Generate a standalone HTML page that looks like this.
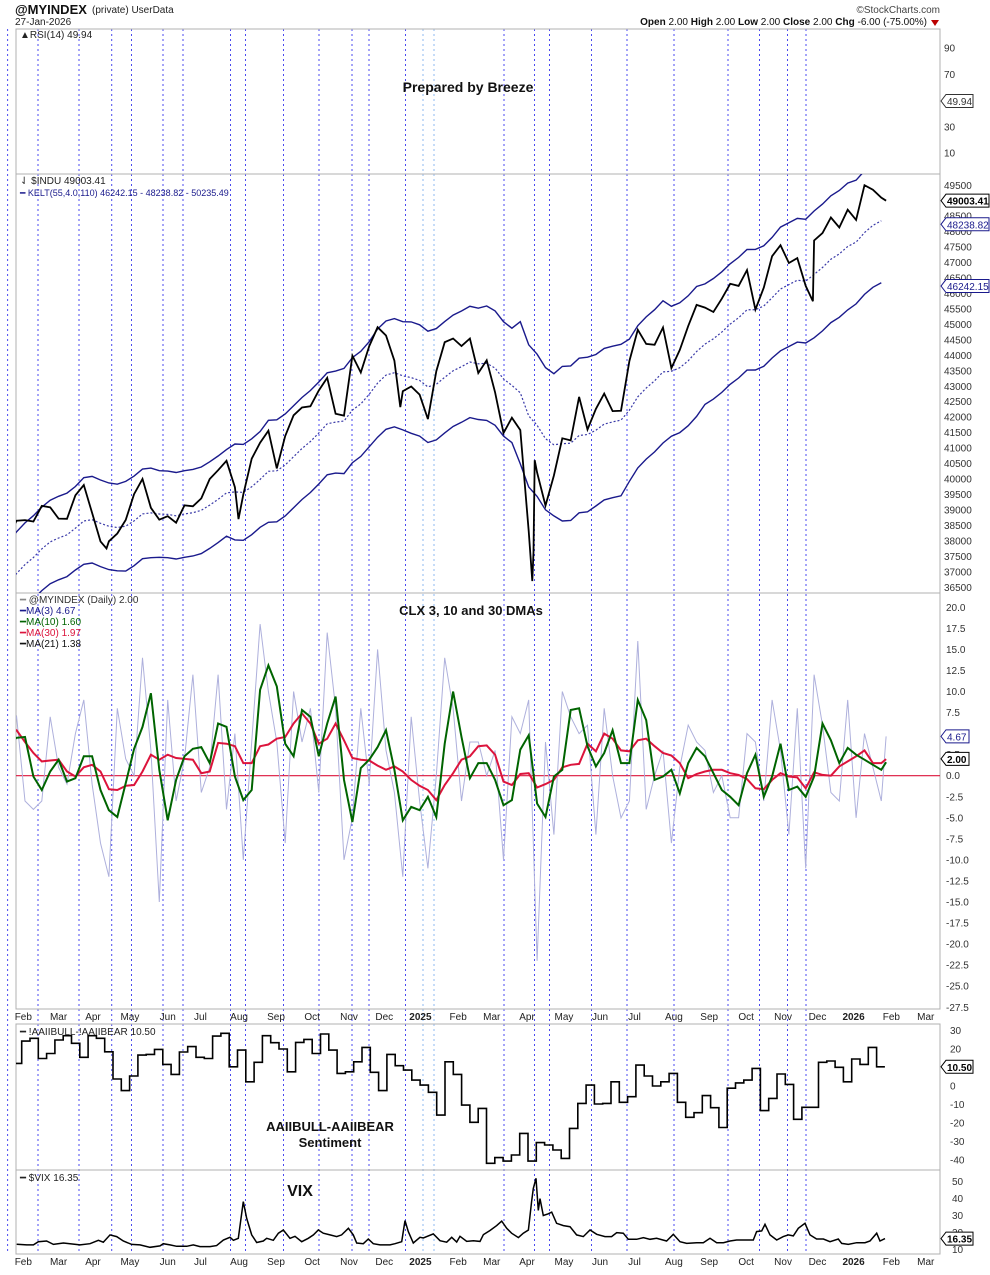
<!DOCTYPE html>
<html><head><meta charset="utf-8"><style>
html,body{margin:0;padding:0;background:#fff;}
body{width:990px;height:1270px;overflow:hidden;font-family:"Liberation Sans",sans-serif;}
svg text{font-family:"Liberation Sans",sans-serif;}
</style></head>
<body>
<svg id="chart" width="990" height="1270" viewBox="0 0 990 1270" xmlns="http://www.w3.org/2000/svg">
<defs>
<clipPath id="cpI"><rect x="16" y="174" width="924" height="419"/></clipPath>
<clipPath id="cpC"><rect x="16" y="593" width="924" height="416"/></clipPath>
<clipPath id="cpA"><rect x="16" y="1024" width="924" height="146"/></clipPath>
<clipPath id="cpV"><rect x="16" y="1170" width="924" height="84"/></clipPath>
</defs>
<g>
<text x="15" y="14" font-size="13" font-weight="bold" fill="#111">@MYINDEX</text>
<text x="92" y="13" font-size="10" fill="#222">(private) UserData</text>
<text x="15" y="25" font-size="10" fill="#222">27-Jan-2026</text>
<text x="940" y="13" font-size="10" fill="#444" text-anchor="end">©StockCharts.com</text>
<text x="927" y="25" font-size="10" fill="#111" text-anchor="end"><tspan font-weight="bold">Open</tspan> 2.00 <tspan font-weight="bold">High</tspan> 2.00 <tspan font-weight="bold">Low</tspan> 2.00 <tspan font-weight="bold">Close</tspan> 2.00 <tspan font-weight="bold">Chg</tspan> -6.00 (-75.00%)</text>
<polygon points="931,20 939,20 935,26" fill="#b00"/>
</g>
<g id="grid"></g>
<g id="frames"></g>
<g id="plots"></g>
<g id="axes"></g>
<g>
<text x="20" y="38" font-size="10" fill="#222">▲RSI(14) 49.94</text>
<text x="468" y="92" font-size="14" font-weight="bold" text-anchor="middle" fill="#111">Prepared by Breeze</text>
<text x="20" y="184" font-size="10" fill="#222">⇃ $INDU 49003.41</text>
<text x="20" y="196" font-size="9" fill="#1a1a8c">━ KELT(55,4.0,110) 46242.15 - 48238.82 - 50235.49</text>
<text x="20" y="603" font-size="10" fill="#333"><tspan fill="#888">━</tspan> @MYINDEX (Daily) 2.00</text>
<text x="20" y="614" font-size="10" fill="#1a1a8c">━MA(3) 4.67</text>
<text x="20" y="625" font-size="10" fill="#006400">━MA(10) 1.60</text>
<text x="20" y="636" font-size="10" fill="#dc143c">━MA(30) 1.97</text>
<text x="20" y="647" font-size="10" fill="#111">━MA(21) 1.38</text>
<text x="471" y="615" font-size="13" font-weight="bold" text-anchor="middle" fill="#111">CLX 3, 10 and 30 DMAs</text>
<text x="20" y="1035" font-size="10" fill="#222">━ !AAIIBULL-!AAIIBEAR 10.50</text>
<text x="330" y="1131" font-size="13" font-weight="bold" text-anchor="middle" fill="#111">AAIIBULL-AAIIBEAR</text>
<text x="330" y="1147" font-size="13" font-weight="bold" text-anchor="middle" fill="#111">Sentiment</text>
<text x="20" y="1181" font-size="10" fill="#222">━ $VIX 16.35</text>
<text x="300" y="1196" font-size="16" font-weight="bold" text-anchor="middle" fill="#111">VIX</text>
</g>
</svg>
<script>
// ---------- DATA ----------
const monthLabels = ["Feb","Mar","Apr","May","Jun","Jul","Aug","Sep","Oct","Nov","Dec","2025","Feb","Mar","Apr","May","Jun","Jul","Aug","Sep","Oct","Nov","Dec","2026","Feb","Mar"];
const monthWeeks = [1.8,6.0,10.1,14.5,19.0,22.9,27.5,31.9,36.2,40.6,44.8,49.1,53.6,57.6,61.8,66.2,70.5,74.6,79.3,83.5,87.9,92.3,96.4,100.7,105.2,109.3];
const gridX = [7.6,38,79,111.7,131.5,163,183,230.5,245.5,283.5,319,352,369,405.5,423,434,504,534.5,549.5,591.5,627,674,728,759.5,787.5,806];
const induClose = [38109,38654,38671,38627,39131,39087,38722,38714,39475,39807,
38904,37983,37986,38239,38676,39512,40003,39070,38686,38799,
38589,39150,39119,39375,40000,40287,40589,39737,39497,40659,
41175,41563,40345,41393,42063,42313,42352,42864,43275,42114,
42052,43989,43445,44296,44911,44643,43828,42840,42992,42732,
41938,43488,44424,44545,44303,44546,43428,43841,42802,41488,
41985,41584,38315,40213,39142,40114,41317,41249,42655,41603,
42270,42763,42198,42207,43819,44828,44371,44342,44902,43589,
44176,44946,45632,45545,45401,45834,46315,46247,46758,45480,
46191,47207,47563,46987,47147,46245,47716,47955,48458,48135,
48711,48382,49504,49359,49098];
const induExtraWeek = [11.71,27.43,46.71,62.43,62.57,62.71,95.86,104.57];
const induExtraVal  = [37753,38703,42327,36700,37645,40608,45752,49003.41];
const keltSeed = 36300;
const keltHalf = [1350,1350,1400,1450,1400,1400,1550,1650,1650,1700,1750,1800,1800,1850,2300,2500,2450,2300,2100,1950,1950,2000,2050,2000];
const induTicks = [49500,49000,48500,48000,47500,47000,46500,46000,45500,45000,44500,44000,43500,43000,42500,42000,41500,41000,40500,40000,39500,39000,38500,38000,37500,37000,36500];
const ma3 = [5,7,-3,-4,-3,7,1,-1,5,9,-1,-8,-12,8,2,0,14,3,-15,9,-3,2,12,-2,1,12,-4,5,-10,4,18,10,4,-8,10,4,8,-2,17,8,-10,-5,8,-1,15,3,-2,-12,7,-3,-11,0,14,8,-3,4,
4,0,3,-10,7,5,9,-22,4,-7,10,7,5,6,-7,8,0,-5,-3,16,-4,0,3,-8,1,6,4,3,-2,0,-5,-5,5,4,-3,9,3,-7,8,-11,12,6,-2,-3,9,-5,5,1,-3,4.67];
const ma10 = [3.8,4.5,4.6,-0.1,-1.7,0.5,1.9,-0.7,-0.3,2.3,2.3,-1.7,-4.1,-4.9,-0.9,3.2,5.8,9.8,0.7,-5.3,-0.5,2.3,3.2,3.4,1.5,6.2,5.8,-0.1,-2.9,-1.7,10.2,13.1,10.6,3.8,2.3,7.8,7.0,2.3,6.2,9.4,-0.5,-5.5,0.9,1.9,3.4,5.4,0.7,-5.3,-3.7,-4.1,-2.5,-4.9,3.8,10.0,4.6,-0.3,
1.5,1.5,-0.5,-3.5,-2.9,3.1,4.8,-3.3,-4.9,-0.1,0.7,7.8,8.0,3.5,1.1,2.7,5.4,1.5,1.5,9.0,6.6,-0.5,-0.1,0.7,-2.1,1.5,3.3,2.3,0.3,-1.7,-2.5,-3.5,0.3,2.5,-2.5,-0.1,3.8,-1.7,-1.3,-2.5,-0.1,6.2,4.2,1.5,3.3,2.5,1.9,1.3,0.7,1.6];
const ma30 = [5.4,5.4,4.0,2.7,1.7,1.8,1.9,0.5,-0.1,1.0,1.3,0.5,-1.6,-1.7,-1.2,-1.1,0.5,2.5,1.9,2.5,2.1,2.0,1.9,0.3,0.5,3.9,3.8,3.5,1.5,1.5,3.5,3.7,4.4,4.6,6.2,7.4,6.2,3.8,4.4,6.2,4.2,2.1,1.9,1.8,1.2,0.7,1.1,0.5,-0.5,-1.2,-1.7,-2.9,-1.1,0.3,1.9,2.3,
3.5,3.6,2.5,-0.7,-1.1,0.2,0.3,-1.4,-1.0,-0.5,1.0,1.3,1.4,3.8,2.9,5.0,4.4,3.0,2.9,4.2,4.4,3.5,2.7,2.4,1.5,-0.3,0.2,0.5,0.7,0.7,0.3,0.1,-0.4,-1.5,-1.6,-0.5,0.3,-0.1,-0.2,-1.5,0.4,0.1,0.0,1.1,1.7,2.3,3.0,1.5,1.5,1.97];
const clxTicks = [20,17.5,15,12.5,10,7.5,5,2.5,0,-2.5,-5,-7.5,-10,-12.5,-15,-17.5,-20,-22.5,-25,-27.5];
const aaii = [12.3,24.4,25.9,15,17.7,25,27.3,23.2,15.6,27.3,25.9,18.6,3.9,-2.4,5.5,16.8,17.2,19.9,11.8,6.4,18.5,21.4,15.6,15,27.1,28.6,10.5,19.5,2.4,12.9,27.3,23.5,20.1,7.8,23.7,25.3,17.7,28.2,19.5,6.9,7.8,13.2,21,7.5,-2.4,17.2,11.1,8.7,3.3,0.6,-3.3,-15.6,13.2,6.4,-10.2,-19.5,-12,-41.7,
-38.6,-40.5,-37.2,-25.5,-40.5,-30.5,-31.8,-34.5,-39,-22.8,-9.3,0.6,-9.6,-9.3,2.4,-8.7,-5.7,11.4,5.5,0.1,2.4,6.9,-8.7,-16.8,-14.3,-5.1,-11.6,-22.3,-1.1,1.8,3.3,9.6,-13.2,-6.6,6.6,1,-17.9,-11.4,-11.4,12.9,13.6,10.2,2.4,14.7,11.8,21,10.5];
const aaiiTicks = [30,20,10,0,-10,-20,-30,-40];
const vixWeek = [1.01,2.2,3.0,3.59,4.58,5.38,6.57,7.36,8.55,9.74,10.74,11.33,12.13,12.92,13.71,14.71,15.7,16.89,18.08,18.48,19.27,20.07,21.26,22.05,22.85,24.04,24.83,25.63,26.42,26.82,27.41,28.01,28.41,29.0,29.6,30.39,30.79,31.58,32.18,32.77,33.57,34.16,34.96,35.75,36.35,36.94,37.54,38.33,39.13,39.72,40.52,41.11,41.51,42.3,42.9,43.49,44.29,45.48,46.07,46.87,47.27,47.66,48.26,49.05,49.45,50.64,51.44,52.23,52.83,53.42,53.82,54.61,55.41,56.2,56.6,57.39,58.19,58.78,59.38,59.97,60.77,61.36,61.96,62.35,62.55,62.87,63.15,63.35,63.74,64.34,64.74,65.33,66.13,66.92,67.71,68.51,69.3,70.1,71.09,71.88,72.48,73.27,73.87,74.86,75.66,76.45,77.24,78.43,79.23,80.02,80.82,82.01,82.8,83.6,84.39,85.19,85.98,86.77,87.57,88.76,89.15,89.75,90.15,90.74,91.54,92.33,92.93,93.52,94.12,94.91,95.51,96.3,97.1,97.89,98.88,99.28,100.07,101.07,102.06,102.66,103.45,103.85,104.44];
const vixVal = [13.0,12.6,12.6,14.5,14.9,12.9,13.7,13.3,12.6,13.3,15.3,14.2,18.5,17.5,14.9,12.9,12.6,11.2,12.0,13.3,12.6,11.8,11.8,12.6,11.6,11.6,12.2,15.5,17.1,15.3,16.5,38.2,28.3,18.5,14.0,14.9,16.5,15.3,19.5,21.4,16.5,17.7,14.5,16.5,18.5,21.4,19.5,18.5,17.5,18.5,22.4,18.5,13.7,13.3,16.1,13.3,12.6,12.6,13.3,14.5,27.0,20.5,13.7,17.1,16.7,19.1,15.1,14.2,17.1,14.3,17.7,14.7,15.1,14.7,18.7,21.1,24.0,26.7,22.4,19.5,16.9,19.5,21.4,38.2,46,52,33,40,30,31,32,25.4,24,23.4,18.5,17.5,21.4,18.9,17.5,17.5,19.9,19.5,15.9,15.9,16.9,15.9,16.5,14.9,18.9,14.5,13.5,13.9,13.9,16.5,13.9,13.9,14.9,15.5,15.5,15.5,20.5,20.9,24.8,18.5,15.5,17.5,18.5,17.9,22.4,25.4,18.5,16.1,16.1,14.5,16.1,13.5,12.9,13.9,13.9,14.9,19.5,14.9,16.35];
const vixTicks = [50,40,30,20,10];

// ---------- SCALES ----------
const NS = "http://www.w3.org/2000/svg";
const xW = w => 8.2 + 8.395 * w;
const xA = k => k === 0 ? 16 : 21.7 + (k - 1) * 8.30;
const yI = v => 185.3 + (49500 - v) * 15.46 / 500;
const yC = v => 775.7 - v * 8.42;
const yA = v => 1086.2 - v * 1.85;
const yV = v => 1249.3 - (v - 10) * 1.69;
const L = 16, R = 940;
function mk(tag, attrs, parent) {
  const e = document.createElementNS(NS, tag);
  for (const k in attrs) e.setAttribute(k, attrs[k]);
  parent.appendChild(e);
  return e;
}
const grid = document.getElementById('grid');
const frames = document.getElementById('frames');
const plots = document.getElementById('plots');
const axes = document.getElementById('axes');

gridX.forEach((gx, i) => {
  const light = (i === 14 || i === 15);
  const ln = mk('line', {x1: gx, x2: gx, y1: 29, y2: 1254, stroke: light ? '#8cb8f0' : '#4a4af0', 'stroke-width': 1, 'stroke-dasharray': '2,3'}, grid);
  
  
});

[[29,174],[174,593],[593,1009],[1024,1170],[1170,1254]].forEach(p => {
  const r = mk('rect', {x: L, y: p[0], width: R - L, height: p[1] - p[0], fill: 'none', stroke: '#b0b0b0', 'stroke-width': 1}, frames);
  
  
});

function poly(pts, attrs, clip, name) {
  const e = mk('polyline', Object.assign({points: pts.map(p => p[0].toFixed(1) + ',' + p[1].toFixed(1)).join(' '), fill: 'none', 'clip-path': 'url(#' + clip + ')'}, attrs), plots);
  
  
  return e;
}

// ---------- INDU ----------
const ema = [];
let prev = keltSeed;
induClose.forEach((c, i) => { prev = prev + (c - prev) * 2 / 12; ema.push(prev); });
const half = induClose.map((c, i) => keltHalf[Math.min(keltHalf.length - 1, Math.floor(i / 4.348))]);
poly(ema.map((m, i) => [xW(i), yI(m + half[i])]), {stroke: '#1a1a8c', 'stroke-width': 1.4}, 'cpI', 'keltner-upper');
poly(ema.map((m, i) => [xW(i), yI(m)]), {stroke: '#3a3aa8', 'stroke-width': 1.2, 'stroke-dasharray': '2,2'}, 'cpI', 'keltner-middle');
poly(ema.map((m, i) => [xW(i), yI(m - half[i])]), {stroke: '#1a1a8c', 'stroke-width': 1.4}, 'cpI', 'keltner-lower');
const induPts = induClose.map((c, i) => [i, c]);
induExtraWeek.forEach((w, j) => induPts.push([w, induExtraVal[j]]));
induPts.sort((a, b) => a[0] - b[0]);
poly(induPts.map(p => [xW(p[0]), yI(p[1])]), {stroke: '#000', 'stroke-width': 1.8}, 'cpI', 'indu-price-line');

// ---------- CLX ----------
const zl = mk('line', {x1: L, x2: R, y1: yC(0), y2: yC(0), stroke: '#dc143c', 'stroke-width': 1.2}, plots);


const wk = arr => arr.map((v, i) => [i === arr.length - 1 ? xW(104.57) : xW(i), yC(v)]);
poly(wk(ma3), {stroke: '#aeb0dc', 'stroke-width': 1}, 'cpC', 'ma3-line');
poly(wk(ma30), {stroke: '#dc143c', 'stroke-width': 2}, 'cpC', 'ma30-line');
poly(wk(ma10), {stroke: '#006400', 'stroke-width': 2}, 'cpC', 'ma10-line');

// ---------- AAII ----------
const aPts = [];
aaii.forEach((v, k) => { aPts.push([xA(k), yA(v)]); aPts.push([xA(k + 1), yA(v)]); });
poly(aPts, {stroke: '#000', 'stroke-width': 1.6}, 'cpA', 'aaii-spread-line');

// ---------- VIX ----------
poly(vixWeek.map((w, i) => [xW(w), yV(vixVal[i])]), {stroke: '#000', 'stroke-width': 1.5}, 'cpV', 'vix-line');

// ---------- AXES ----------
function lbl(x, y, t, opts) {
  const e = mk('text', Object.assign({x: x, y: y, 'font-size': 10, fill: '#333'}, opts || {}), axes);
  e.textContent = t;
  
  
  return e;
}
[[90,48],[70,74.5],[30,127],[10,153]].forEach(t => lbl(944, t[1] + 3.5, String(t[0])));
induTicks.forEach(v => lbl(944, yI(v) + 3.5, String(v)));
clxTicks.forEach(v => lbl(946, yC(v) + 3.5, v.toFixed(1)));
aaiiTicks.forEach(v => lbl(950, yA(v) + 3.5, String(v)));
vixTicks.forEach(v => lbl(952, yV(v) + 3.5, String(v)));
monthLabels.forEach((m, i) => {
  const bold = (m === '2025' || m === '2026');
  [1020, 1265].forEach(yy => {
    const x = xW(monthWeeks[i]);
    if (x < R) {
      const t = lbl(x, yy, m, {'text-anchor': 'middle', 'font-weight': bold ? 'bold' : 'normal', fill: '#222'});
      
    }
  });
});

function tag(y, text, color, bold, w) {
  const g = mk('g', {}, axes);
  
  
  const x0 = 941;
  mk('polygon', {points: `${x0},${y} ${x0 + 5},${y - 6.5} ${x0 + w},${y - 6.5} ${x0 + w},${y + 6.5} ${x0 + 5},${y + 6.5}`, fill: '#fff', stroke: color, 'stroke-width': 1}, g);
  const t = mk('text', {x: x0 + 6, y: y + 4, 'font-size': 10, fill: color, 'font-weight': bold ? 'bold' : 'normal'}, g);
  t.textContent = text;
}
tag(101, '49.94', '#333', false, 32);
tag(yI(46242.15), '46242.15', '#1a1a8c', false, 48);
tag(yI(48238.82), '48238.82', '#1a1a8c', false, 48);
tag(yI(49003.41), '49003.41', '#000', true, 48);
tag(yC(4.67), '4.67', '#1a1a8c', false, 28);
tag(yC(2.0), '2.00', '#000', true, 28);
tag(yA(10.5), '10.50', '#000', true, 32);
tag(yV(16.35), '16.35', '#000', true, 32);
</script>
</body></html>
